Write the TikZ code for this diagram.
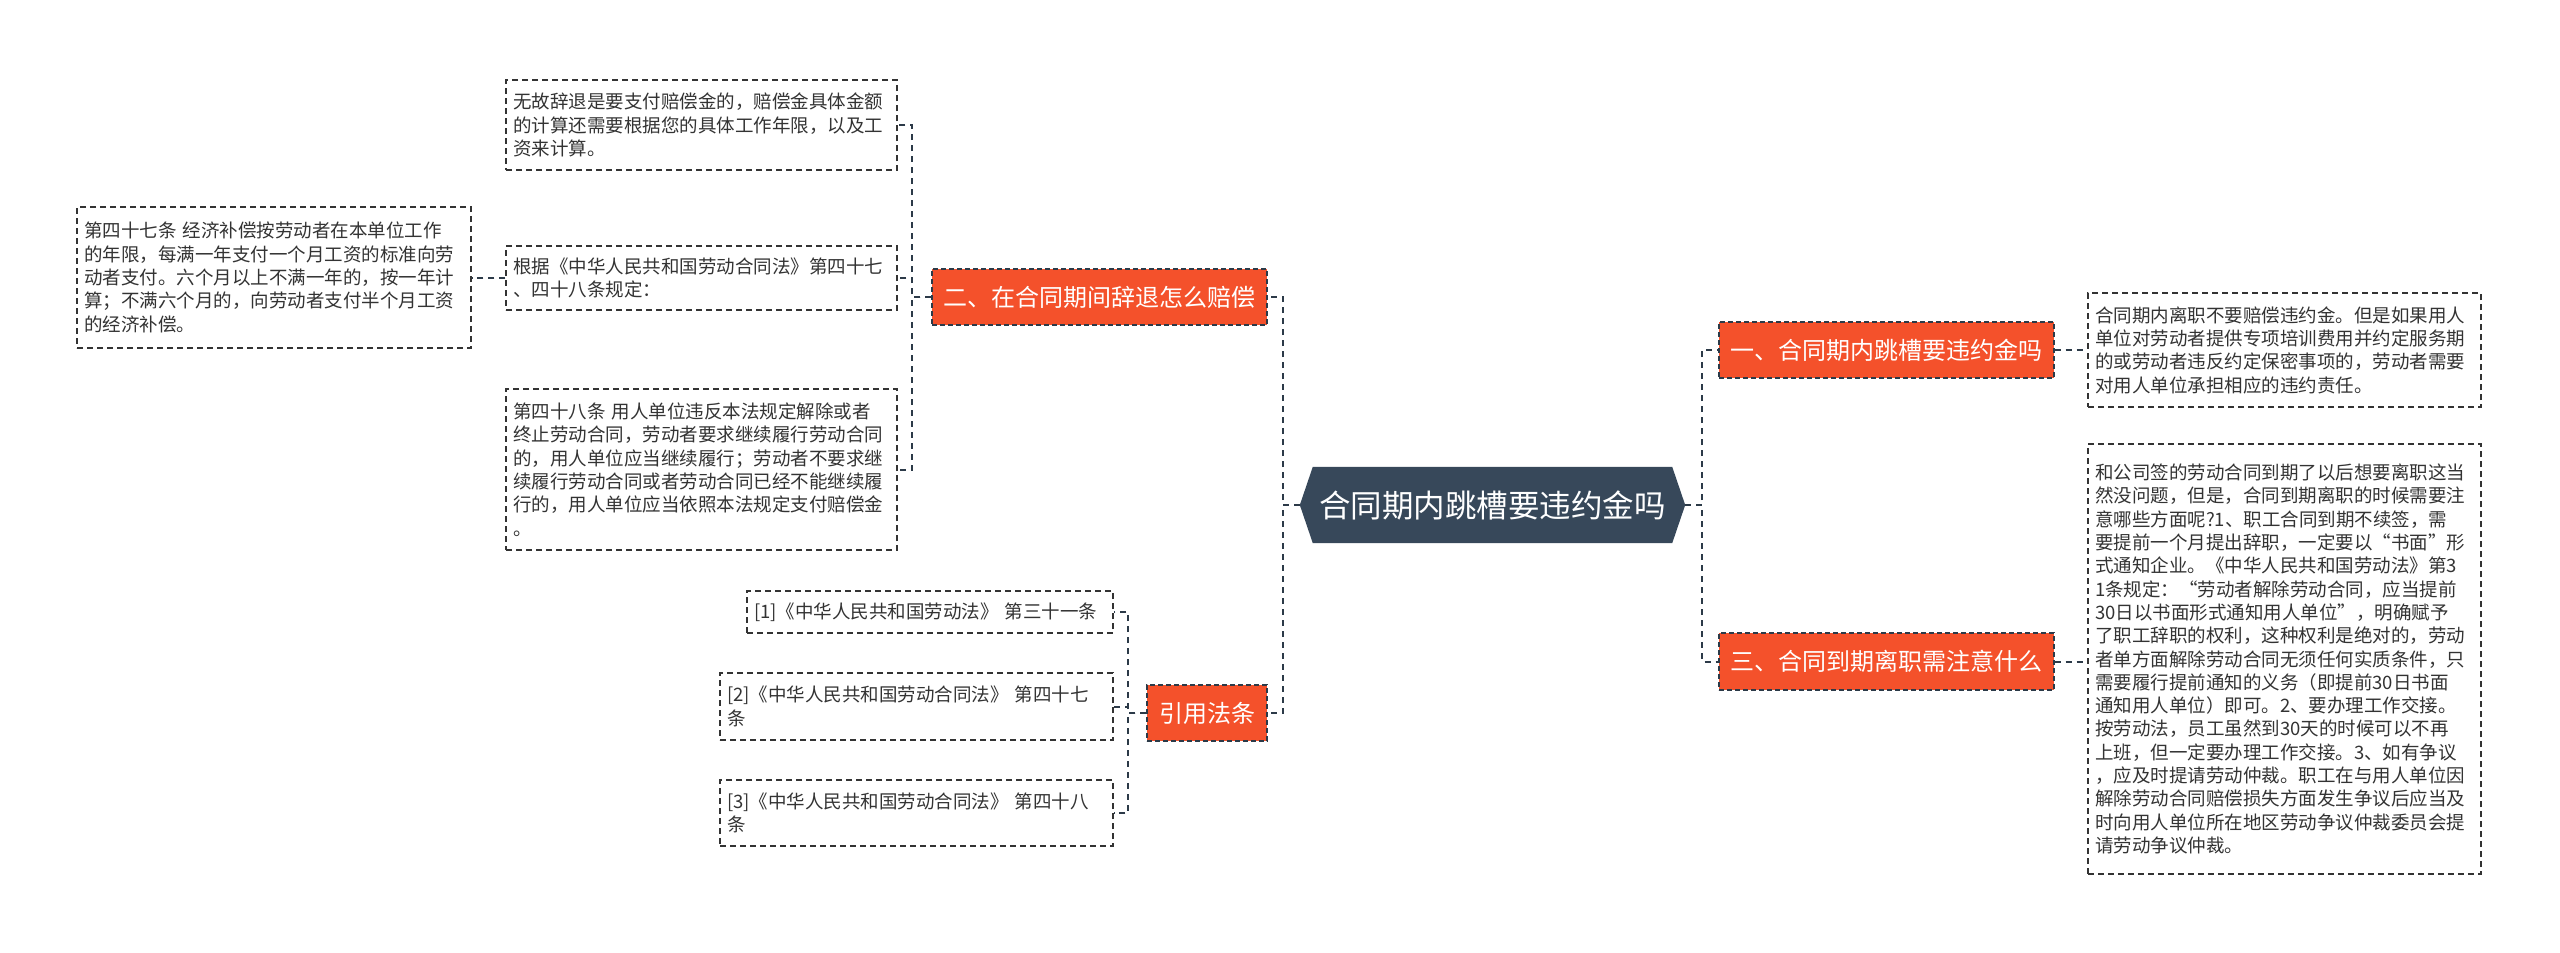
\documentclass[tikz,border=0pt]{standalone}
\usepackage{fontspec}
\setmainfont{Noto Sans CJK SC}
\usetikzlibrary{calc,backgrounds}
\definecolor{orangeF}{RGB}{244,81,43}
\definecolor{hexF}{RGB}{55,72,90}
\definecolor{lineC}{RGB}{44,58,72}
\definecolor{txt}{RGB}{51,51,51}
\begin{document}
\begin{tikzpicture}[x=1pt,y=-1pt,
 conn/.style={draw=lineC, line width=2pt, dash pattern=on 6pt off 5pt},
 tbox/.style={draw=txt, line width=1.4pt, dash pattern=on 6pt off 4pt, fill=white, align=left, inner xsep=7pt, inner ysep=0pt, font=\fontsize{18.5}{23.3}\selectfont, text=txt},
 obox/.style={fill=orangeF, draw=lineC, line width=1.4pt, dash pattern=on 5pt off 3pt, text=white, font=\fontsize{24}{28}\selectfont, inner sep=0pt},
]
\useasboundingbox (0,0) rectangle (2560,953);

% central
\node[text=white, font=\fontsize{31.5}{36}\selectfont, minimum width=385pt, minimum height=76pt, inner sep=0pt] (c) at (1492.5,505) {合同期内跳槽要违约金吗};
\begin{scope}[on background layer]
\fill[hexF] (c.west) -- ($(c.north west)+(13,0)$) -- ($(c.north east)+(-13,0)$) -- (c.east) -- ($(c.south east)+(-13,0)$) -- ($(c.south west)+(13,0)$) -- cycle;
\end{scope}

% main branches
\node[obox, minimum width=335pt, minimum height=56pt] (n1) at (1886.5,350) {一、合同期内跳槽要违约金吗};
\node[obox, minimum width=335pt, minimum height=57pt] (n3) at (1886.5,661.5) {三、合同到期离职需注意什么};
\node[obox, minimum width=335pt, minimum height=56pt] (n2) at (1099.5,297) {二、在合同期间辞退怎么赔偿};
\node[obox, minimum width=120pt, minimum height=56pt] (n4) at (1207,713) {引用法条};

% right text boxes
\node[tbox, text width=379pt, minimum height=114pt] (t1) at (2284.5,350) {合同期内离职不要赔偿违约金。但是如果用人\\单位对劳动者提供专项培训费用并约定服务期\\的或劳动者违反约定保密事项的，劳动者需要\\对用人单位承担相应的违约责任。};
\node[tbox, text width=379pt, minimum height=430pt] (t3) at (2284.5,659) {和公司签的劳动合同到期了以后想要离职这当\\然没问题，但是，合同到期离职的时候需要注\\意哪些方面呢?1、职工合同到期不续签，需\\要提前一个月提出辞职，一定要以“书面”形\\式通知企业。《中华人民共和国劳动法》第3\\1条规定：“劳动者解除劳动合同，应当提前\\30日以书面形式通知用人单位”，明确赋予\\了职工辞职的权利，这种权利是绝对的，劳动\\者单方面解除劳动合同无须任何实质条件，只\\需要履行提前通知的义务（即提前30日书面\\通知用人单位）即可。2、要办理工作交接。\\按劳动法，员工虽然到30天的时候可以不再\\上班，但一定要办理工作交接。3、如有争议\\，应及时提请劳动仲裁。职工在与用人单位因\\解除劳动合同赔偿损失方面发生争议后应当及\\时向用人单位所在地区劳动争议仲裁委员会提\\请劳动争议仲裁。};

% left text boxes
\node[tbox, text width=377pt, minimum height=90pt] (a) at (701.5,125) {无故辞退是要支付赔偿金的，赔偿金具体金额\\的计算还需要根据您的具体工作年限，以及工\\资来计算。};
\node[tbox, text width=377pt, minimum height=64pt] (b) at (701.5,278) {根据《中华人民共和国劳动合同法》第四十七\\、四十八条规定：};
\node[tbox, text width=377pt, minimum height=161pt] (cc) at (701.5,469.5) {第四十八条 用人单位违反本法规定解除或者\\终止劳动合同，劳动者要求继续履行劳动合同\\的，用人单位应当继续履行；劳动者不要求继\\续履行劳动合同或者劳动合同已经不能继续履\\行的，用人单位应当依照本法规定支付赔偿金\\。};
\node[tbox, text width=380pt, minimum height=141pt] (d) at (274,277.5) {第四十七条 经济补偿按劳动者在本单位工作\\的年限，每满一年支付一个月工资的标准向劳\\动者支付。六个月以上不满一年的，按一年计\\算；不满六个月的，向劳动者支付半个月工资\\的经济补偿。};

% references
\node[tbox, text width=352pt, minimum height=42pt] (r1) at (930,612) {[1]《中华人民共和国劳动法》 第三十一条};
\node[tbox, text width=379pt, minimum height=67pt] (r2) at (916.5,706.5) {[2]《中华人民共和国劳动合同法》 第四十七\\条};
\node[tbox, text width=379pt, minimum height=66pt] (r3) at (916.5,813) {[3]《中华人民共和国劳动合同法》 第四十八\\条};

% connectors
\draw[conn] (c.east) -- ++(17,0) |- (n1.west);
\draw[conn] (c.east) -- ++(17,0) |- (n3.west);
\draw[conn] (c.west) -- ++(-17,0) |- (n2.east);
\draw[conn] (c.west) -- ++(-17,0) |- (n4.east);
\draw[conn] (n1.east) -- (n1.east -| t1.west);
\draw[conn] (n3.east) -- (n3.east -| t3.west);
\draw[conn] (n2.west) -- ++(-19,0) |- (a.east);
\draw[conn] (n2.west) -- ++(-19,0) |- (b.east);
\draw[conn] (n2.west) -- ++(-19,0) |- (cc.east);
\draw[conn] (b.west) -- (b.west -| d.east);
\draw[conn] (n4.west) -- ++(-18,0) |- (r1.east);
\draw[conn] (n4.west) -- ++(-18,0) |- (r2.east);
\draw[conn] (n4.west) -- ++(-18,0) |- (r3.east);
\end{tikzpicture}
\end{document}
